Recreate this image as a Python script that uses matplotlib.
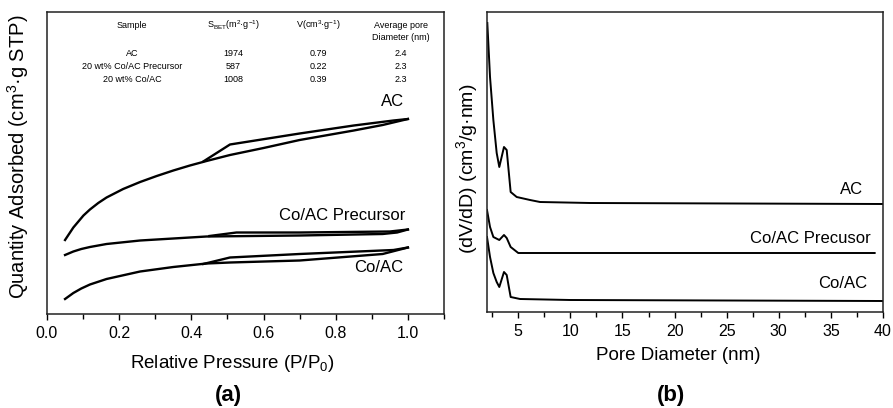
import matplotlib
matplotlib.use("Agg")
import matplotlib.pyplot as plt
from matplotlib.ticker import MultipleLocator

plt.rcParams['font.family'] = ['Liberation Sans', 'DejaVu Sans']
plt.rcParams['mathtext.fontset'] = 'custom'
plt.rcParams['mathtext.rm'] = 'Liberation Sans'
plt.rcParams['mathtext.it'] = 'Liberation Sans:italic'
plt.rcParams['mathtext.bf'] = 'Liberation Sans:bold'

# (a) N2 isotherms, quantity adsorbed (arbitrary units)
ac_ads_p = [0.05, 0.073, 0.101, 0.119, 0.142, 0.165, 0.211, 0.258, 0.304, 0.35, 0.396,
            0.442, 0.507, 0.60, 0.70, 0.85, 0.93, 1.0]
ac_ads_q = [148, 173, 197, 209, 222, 233, 250, 264, 276, 287, 297,
            306, 318, 332, 348, 367, 378, 390]
ac_des_p = [1.0, 0.96, 0.85, 0.70, 0.507, 0.433]
ac_des_q = [390, 387, 377, 361, 339, 305]

pre_ads_p = [0.05, 0.073, 0.095, 0.119, 0.165, 0.258, 0.35, 0.442, 0.70, 0.93, 0.97, 1.0]
pre_ads_q = [118, 125, 130, 134, 140, 147, 151, 155, 157, 160, 163, 169]
pre_des_p = [1.0, 0.95, 0.70, 0.525, 0.45]
pre_des_q = [169, 165, 163, 163, 156]

co_ads_p = [0.05, 0.073, 0.095, 0.119, 0.165, 0.258, 0.35, 0.442, 0.507, 0.70, 0.93, 1.0]
co_ads_q = [30, 42, 51, 59, 70, 85, 94, 101, 103, 107, 120, 133]
co_des_p = [1.0, 0.96, 0.70, 0.507, 0.433]
co_des_q = [133, 128, 120, 113, 100]

# (b) pore size distribution, dV/dD (offset curves)
ac_d = [2.03, 2.29, 2.61, 2.93, 3.18, 3.63, 3.89, 4.27, 4.85, 6.13, 7.09, 11.9, 40]
ac_v = [0.289, 0.235, 0.192, 0.159, 0.145, 0.165, 0.162, 0.120, 0.115, 0.112, 0.110, 0.109, 0.108]
pre_d = [2.0, 2.29, 2.61, 3.18, 3.63, 3.89, 4.27, 5.0, 39.2]
pre_v = [0.102, 0.085, 0.075, 0.072, 0.077, 0.074, 0.065, 0.059, 0.059]
co_d = [2.0, 2.29, 2.61, 2.93, 3.18, 3.63, 3.89, 4.27, 5.17, 10.0, 40]
co_v = [0.075, 0.055, 0.039, 0.030, 0.025, 0.040, 0.037, 0.015, 0.013, 0.012, 0.011]

# inset table
tab_samples = ["AC", "20 wt% Co/AC Precursor", "20 wt% Co/AC"]
tab_sbet = ["1974", "587", "1008"]
tab_vol = ["0.79", "0.22", "0.39"]
tab_pore = ["2.4", "2.3", "2.3"]

W, H = 893, 408
fig = plt.figure(figsize=(W / 100, H / 100), dpi=100)


def put(x, y, s, **kw):
    # place text by pixel position of the picture
    kw.setdefault('ha', 'center')
    kw.setdefault('va', 'center')
    fig.text(x / W, 1 - y / H, s, **kw)


def style(ax):
    for sp in ax.spines.values():
        sp.set_linewidth(1.1)
        sp.set_color('#222222')
    ax.set_yticks([])
    ax.tick_params(axis='x', which='both', direction='out', width=1.0, labelsize=11.5, pad=4)
    ax.tick_params(axis='x', which='major', length=4.5)
    ax.tick_params(axis='x', which='minor', length=3.5)


ax1 = fig.add_axes([47 / W, 1 - 314 / H, 397 / W, 302 / H])
lw = 1.7
ax1.plot(ac_ads_p, ac_ads_q, color='black', lw=lw)
ax1.plot(ac_des_p, ac_des_q, color='black', lw=lw)
ax1.plot(pre_ads_p, pre_ads_q, color='black', lw=lw)
ax1.plot(pre_des_p, pre_des_q, color='black', lw=lw)
ax1.plot(co_ads_p, co_ads_q, color='black', lw=lw)
ax1.plot(co_des_p, co_des_q, color='black', lw=lw)
ax1.set_xlim(0, 1.1)
ax1.set_ylim(0, 604)
ax1.xaxis.set_minor_locator(MultipleLocator(0.1))
ax1.set_xticks([0, 0.2, 0.4, 0.6, 0.8, 1.0])
ax1.set_xticklabels(["0.0", "0.2", "0.4", "0.6", "0.8", "1.0"])
style(ax1)

ax2 = fig.add_axes([487 / W, 1 - 312 / H, 396 / W, 300 / H])
ax2.plot(ac_d, ac_v, color='black', lw=1.4)
ax2.plot(pre_d, pre_v, color='black', lw=1.4)
ax2.plot(co_d, co_v, color='black', lw=1.4)
ax2.set_xlim(2, 40)
ax2.set_ylim(0, 0.3)
ax2.xaxis.set_minor_locator(MultipleLocator(2.5))
ax2.set_xticks([5, 10, 15, 20, 25, 30, 35, 40])
style(ax2)

# axis titles
put(18, 157, "Quantity Adsorbed (cm$^3$·g STP)", rotation=90, fontsize=14.5)
put(232, 363, "Relative Pressure (P/P$_0$)", fontsize=13.5)
put(228, 396, "(a)", fontsize=16, fontweight='bold')
put(467, 169, "(dV/dD) (cm$^3$/g·nm)", rotation=90, fontsize=14)
put(678, 355, "Pore Diameter (nm)", fontsize=13.5)
put(671, 396, "(b)", fontsize=16, fontweight='bold')

# curve names
put(393, 102, "AC", fontsize=12)
put(342, 215, "Co/AC Precursor", fontsize=12)
put(379, 268, "Co/AC", fontsize=12)
put(852, 189, "AC", fontsize=12)
put(810, 238, "Co/AC Precusor", fontsize=12)
put(843, 284, "Co/AC", fontsize=12)

# inset table
fs = 6.5
put(132, 25, "Sample", fontsize=fs)
put(233, 25, r"S$_{\mathrm{BET}}$(m$^2$·g$^{-1}$)", fontsize=fs)
put(318, 25, r"V(cm$^3$·g$^{-1}$)", fontsize=fs)
put(401, 25, "Average pore", fontsize=fs)
put(401, 38, "Diameter (nm)", fontsize=fs)
for i in range(len(tab_samples)):
    y = 53 + i * 13.5
    put(132, y, tab_samples[i], fontsize=fs)
    put(233, y, tab_sbet[i], fontsize=fs)
    put(318, y, tab_vol[i], fontsize=fs)
    put(401, y, tab_pore[i], fontsize=fs)

fig.savefig("out.png", dpi=100)
